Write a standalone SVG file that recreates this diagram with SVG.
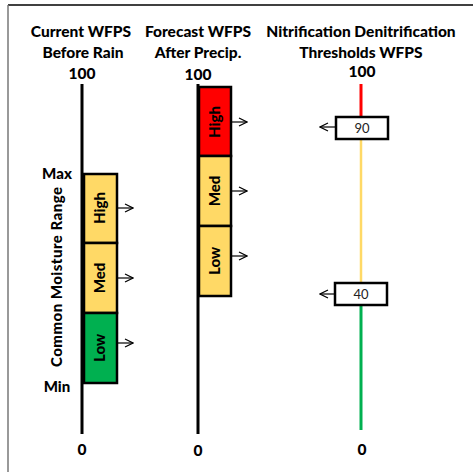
<svg xmlns="http://www.w3.org/2000/svg" width="473" height="472" viewBox="0 0 473 472">
<defs>
<marker id="ah" markerWidth="10" markerHeight="10" refX="9" refY="5" orient="auto" markerUnits="userSpaceOnUse">
<polyline points="1,1 9,5 1,9" fill="none" stroke="#000" stroke-width="1.2"/>
</marker>
</defs>
<style>
text{font-family:Lato,"Liberation Sans",sans-serif;fill:#000}
.t{font-size:15.5px;font-weight:900;text-anchor:middle}
.b{font-size:15px;font-weight:900;text-anchor:middle}
.n{font-size:13px;text-anchor:middle;fill:#222}
.ax{stroke:#000;stroke-width:3}
.box{stroke:#000;stroke-width:2.5}
.y{fill:#FFD966}.g{fill:#00B050}.r{fill:#FF0000}
.arr{stroke:#000;stroke-width:1.2;marker-end:url(#ah)}
</style>
<rect width="473" height="472" fill="#fff"/>
<line x1="8" y1="5" x2="473" y2="5" stroke="#000" stroke-width="1.5"/>
<line x1="8" y1="5" x2="8" y2="472" stroke="#777" stroke-width="1.5"/>
<g id="titles">
<text class="t" x="81" y="37">Current WFPS</text>
<text class="t" x="83" y="58">Before Rain</text>
<text class="t" x="198" y="37">Forecast WFPS</text>
<text class="t" x="198" y="58">After Precip.</text>
<text class="t" x="361" y="37">Nitrification Denitrification</text>
<text class="t" x="361" y="58">Thresholds WFPS</text>
<text class="t" x="82" y="79">100</text>
<text class="t" x="198" y="80">100</text>
<text class="t" x="362" y="77">100</text>
<text class="t" x="82" y="455">0</text>
<text class="t" x="198" y="456">0</text>
<text class="t" x="362" y="455">0</text>
</g>
<g id="col1">
<line class="ax" x1="82" y1="84" x2="82" y2="434"/>
<text class="b" x="57" y="179">Max</text>
<text class="b" x="57" y="392">Min</text>
<text class="b" transform="translate(62,277) rotate(-90)" textLength="180" lengthAdjust="spacing">Common Moisture Range</text>
<g id="c1-high"><rect class="box y" x="84" y="174" width="33" height="69"/><text class="b" transform="translate(105,208) rotate(-90)">High</text></g>
<g id="c1-med"><rect class="box y" x="84" y="243" width="33" height="70"/><text class="b" transform="translate(105,278) rotate(-90)">Med</text></g>
<g id="c1-low"><rect class="box g" x="84" y="313" width="33" height="70"/><text class="b" transform="translate(105,348) rotate(-90)">Low</text></g>
</g>
<g id="col2">
<line class="ax" x1="198" y1="84" x2="198" y2="434"/>
<g id="c2-high"><rect class="box r" x="199" y="87" width="32" height="69"/><text class="b" transform="translate(220,122) rotate(-90)">High</text></g>
<g id="c2-med"><rect class="box y" x="199" y="156" width="32" height="70"/><text class="b" transform="translate(220,191) rotate(-90)">Med</text></g>
<g id="c2-low"><rect class="box y" x="199" y="226" width="32" height="70"/><text class="b" transform="translate(220,261) rotate(-90)">Low</text></g>
</g>
<g id="col3">
<line x1="361" y1="84" x2="361" y2="117" stroke="#FF0000" stroke-width="3"/>
<line x1="361" y1="139" x2="361" y2="283" stroke="#FFD966" stroke-width="2.5"/>
<line x1="361" y1="305" x2="361" y2="430" stroke="#00B050" stroke-width="3"/>
<g id="t90"><rect class="box" fill="#fff" x="336" y="117" width="52" height="22"/><text class="n" x="362" y="133">90</text></g>
<g id="t40"><rect class="box" fill="#fff" x="335" y="283" width="52" height="22"/><text class="n" x="361" y="299">40</text></g>
</g>
<g id="connectors">
<line class="arr" x1="117" y1="208" x2="133" y2="208"/>
<line class="arr" x1="117" y1="278" x2="133" y2="278"/>
<line class="arr" x1="117" y1="343" x2="133" y2="343"/>
<line class="arr" x1="231" y1="122" x2="247" y2="122"/>
<line class="arr" x1="231" y1="191" x2="247" y2="191"/>
<line class="arr" x1="231" y1="256" x2="247" y2="256"/>
<line class="arr" x1="336" y1="127" x2="320" y2="127"/>
<line class="arr" x1="335" y1="294" x2="320" y2="294"/>
</g>
</svg>
